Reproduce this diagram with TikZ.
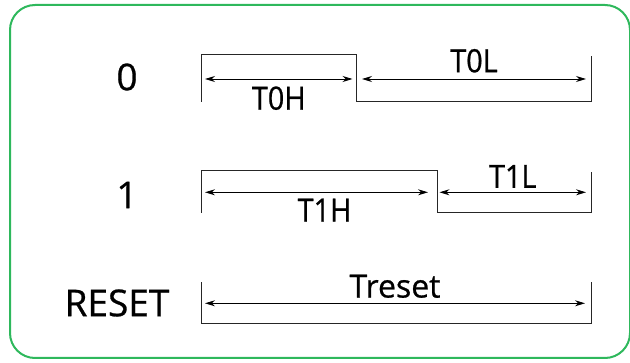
\documentclass[tikz,border=0pt]{standalone}
\usepackage{fontspec}
\setmainfont[FakeBold=0.7]{Open Sans}
\newfontfamily\narrowfont[FakeStretch=0.9,FakeBold=0.7]{Open Sans}
\usetikzlibrary{arrows.meta}
\definecolor{framegreen}{RGB}{46,184,92}
\tikzset{
    wave/.style={line width=1pt, color=black!85},
    dim/.style={<->, >={Stealth[length=10pt,width=6pt]}, line width=0.9pt},
    big/.style={font=\fontsize{37}{40}\selectfont, inner sep=0pt},
    lab/.style={font=\narrowfont\fontsize{32}{34}\selectfont, inner sep=0pt},
    labr/.style={font=\fontsize{32}{34}\selectfont, inner sep=0pt}
}

\begin{document}
\begin{tikzpicture}[x=1pt,y=-1pt]
    \useasboundingbox (0,0) rectangle (630,363);
    \draw [framegreen,line width=2pt,rounded corners=25pt] (10,5) rectangle (630,358);
    % row labels
    \node [big] (zero) at (127,77) {0};
    \node [big] (one) at (127,195) {1};
    \node [big] (rst) at (117,303) {RESET};
    % bit 0
    \draw [wave] (201,101.7) -- (201,55) -- (356,55) -- (356,101.7) -- (591.5,101.7) -- (591.5,56);
    \coordinate (a0) at (205,79);
    \coordinate (b0) at (352.5,79);
    \coordinate (c0) at (362,79);
    \coordinate (d0) at (586,79);
    \draw [dim] (a0) -- node [lab,below=7pt] {T0H} (b0);
    \draw [dim] (c0) -- node [lab,above=6pt] {T0L} (d0);
    % bit 1
    \draw [wave] (201,212.7) -- (201,171) -- (437,171) -- (437,212.7) -- (591.5,212.7) -- (591.5,171.7);
    \coordinate (a1) at (205,192.3);
    \coordinate (b1) at (428,192.3);
    \coordinate (c1) at (439.5,192.3);
    \coordinate (d1) at (586,192.3);
    \draw [dim] (a1) -- node [lab,below=6pt,xshift=8pt] {T1H} (b1);
    \draw [dim] (c1) -- node [lab,above=4pt] {T1L} (d1);
    % reset
    \draw [wave] (201,282.3) -- (201,324) -- (591.5,324) -- (591.5,282);
    \coordinate (ar) at (205,303.3);
    \coordinate (br) at (585,303.3);
    \draw [dim] (ar) -- node [labr,above=5pt] {Treset} (br);
\end{tikzpicture}
\end{document}
